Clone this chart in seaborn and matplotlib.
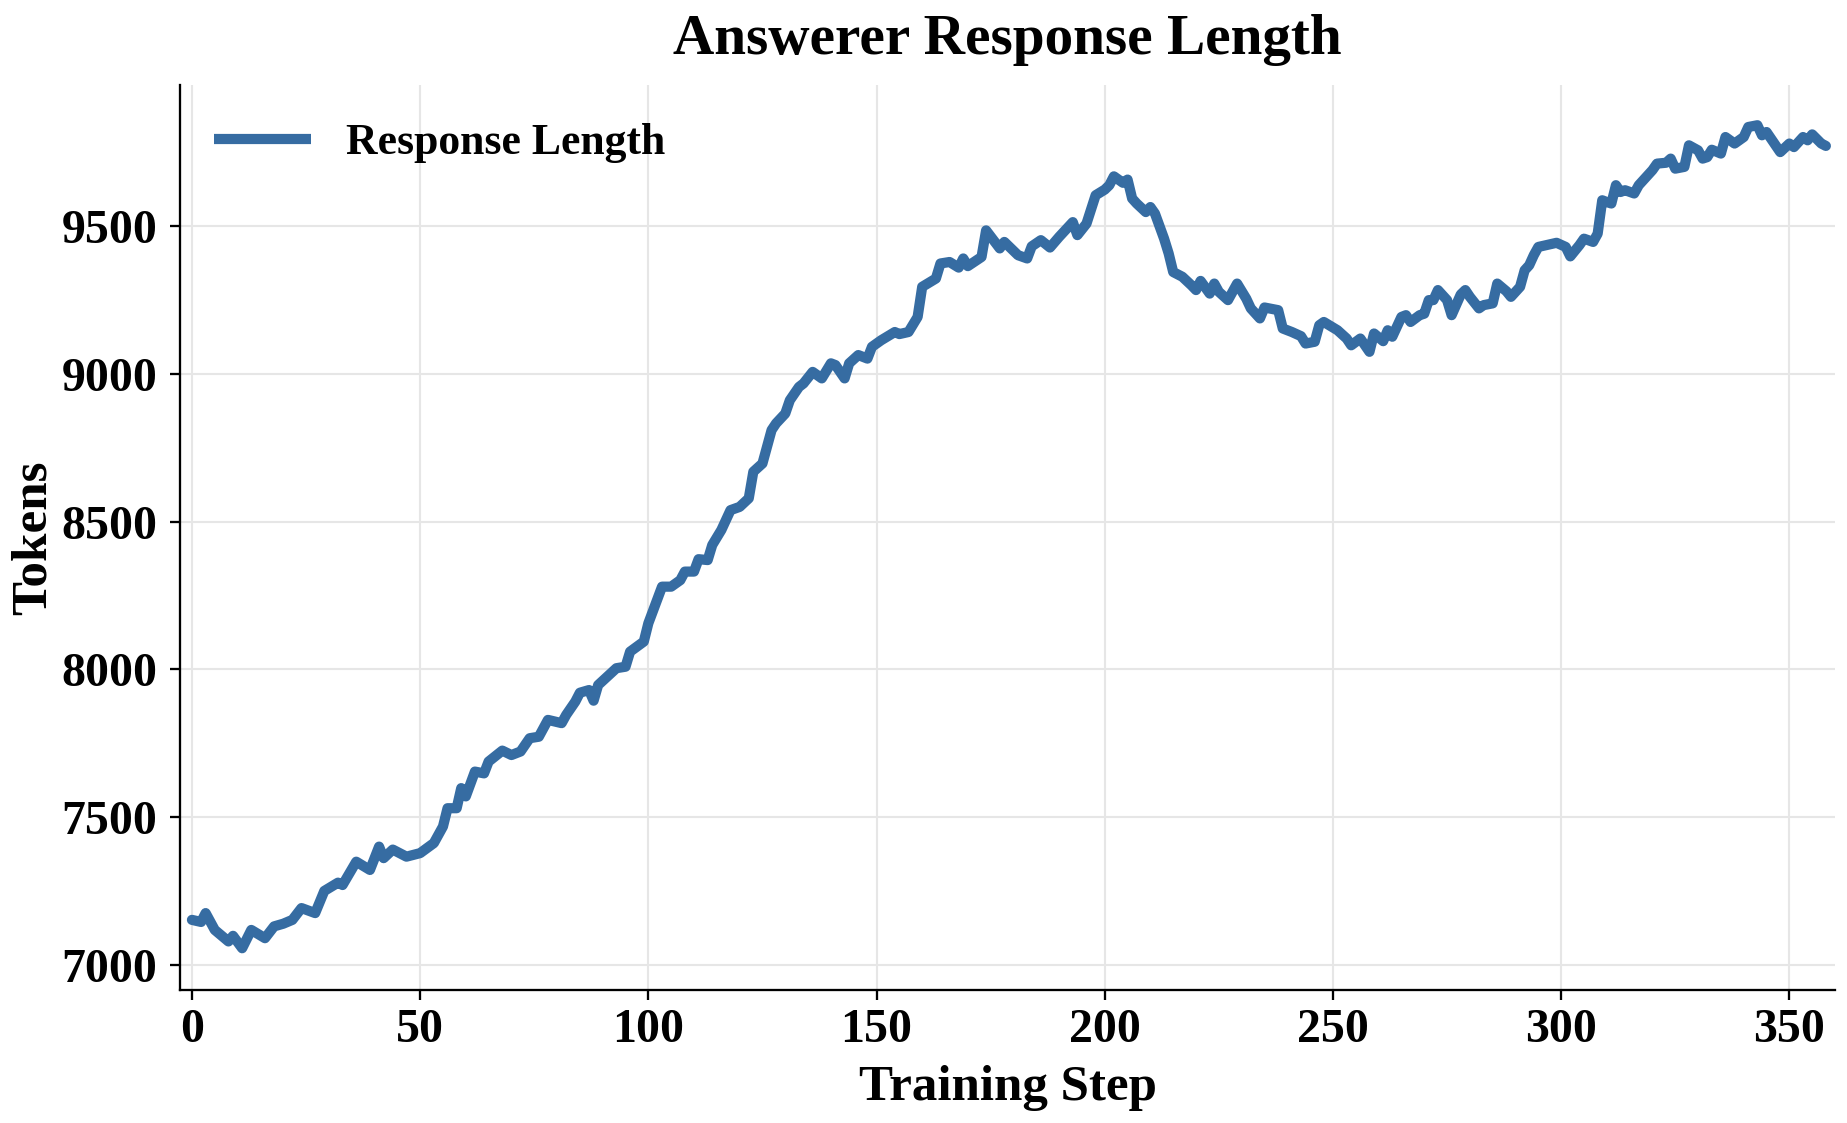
import matplotlib
matplotlib.use("Agg")
import matplotlib.pyplot as plt
import seaborn as sns
import pandas as pd

# --- Data ---
steps = [
    0, 2, 3, 5, 8, 9, 11, 13, 16, 18, 20, 22, 24, 27, 29, 32, 33, 36, 39, 41,
    42, 44, 47, 50, 53, 55, 56, 58, 59, 60, 62, 64, 65, 68, 70, 72, 74, 76, 78, 81,
    82, 84, 85, 87, 88, 89, 93, 95, 96, 99, 100, 103, 105, 107, 108, 110, 111, 113, 114, 116,
    118, 120, 122, 123, 125, 127, 128, 130, 131, 133, 134, 136, 138, 140, 141, 143, 144, 146, 148, 149,
    151, 154, 155, 157, 159, 160, 163, 164, 166, 168, 169, 170, 173, 174, 177, 178, 181, 183, 184, 186,
    188, 190, 193, 194, 196, 198, 200, 201, 202, 204, 205, 206, 207, 209, 210, 211, 213, 214, 215, 217,
    219, 220, 221, 223, 224, 225, 227, 229, 231, 232, 234, 235, 238, 239, 241, 243, 244, 246, 247, 248,
    251, 253, 254, 256, 258, 259, 261, 262, 263, 265, 266, 267, 269, 270, 271, 272, 273, 275, 276, 278,
    279, 280, 282, 283, 285, 286, 288, 289, 291, 292, 293, 294, 295, 299, 301, 302, 304, 305, 307, 308,
    309, 310, 311, 312, 313, 314, 316, 317, 320, 321, 323, 324, 325, 327, 328, 330, 331, 332, 333, 335,
    336, 338, 340, 341, 343, 344, 345, 347, 348, 350, 351, 353, 354, 355, 357, 358,
]
tokens = [
    7152, 7145, 7175, 7118, 7079, 7098, 7056, 7118, 7090, 7130, 7139, 7152, 7192, 7175, 7250, 7278, 7270, 7349, 7321, 7400,
    7361, 7390, 7366, 7378, 7412, 7468, 7530, 7530, 7598, 7570, 7654, 7648, 7688, 7725, 7710, 7722, 7767, 7772, 7829, 7818,
    7846, 7891, 7921, 7930, 7894, 7947, 8004, 8009, 8060, 8094, 8156, 8280, 8280, 8302, 8331, 8331, 8373, 8370, 8421, 8472,
    8539, 8550, 8579, 8669, 8697, 8810, 8833, 8866, 8911, 8956, 8968, 9007, 8985, 9036, 9030, 8985, 9036, 9064, 9052, 9092,
    9114, 9142, 9135, 9142, 9193, 9295, 9323, 9374, 9379, 9360, 9391, 9365, 9396, 9486, 9425, 9447, 9402, 9391, 9432, 9453,
    9428, 9464, 9514, 9470, 9509, 9605, 9624, 9639, 9669, 9647, 9658, 9594, 9577, 9548, 9565, 9543, 9458, 9408, 9345, 9329,
    9300, 9284, 9315, 9272, 9306, 9278, 9250, 9306, 9255, 9222, 9188, 9225, 9216, 9154, 9142, 9128, 9103, 9109, 9165, 9176,
    9148, 9120, 9097, 9120, 9075, 9137, 9111, 9148, 9126, 9193, 9199, 9176, 9199, 9204, 9250, 9250, 9284, 9250, 9199, 9269,
    9284, 9261, 9222, 9233, 9239, 9306, 9280, 9261, 9295, 9351, 9368, 9402, 9430, 9444, 9430, 9398, 9436, 9458, 9447, 9475,
    9588, 9582, 9577, 9639, 9616, 9622, 9611, 9639, 9690, 9712, 9715, 9729, 9695, 9701, 9774, 9757, 9729, 9734, 9759, 9746,
    9802, 9780, 9802, 9836, 9842, 9808, 9819, 9774, 9751, 9780, 9768, 9802, 9791, 9811, 9780, 9772,
]
y_ticks = [7000, 7500, 8000, 8500, 9000, 9500]
x_ticks = [0, 50, 100, 150, 200, 250, 300, 350]

df = pd.DataFrame({"step": steps, "tokens": tokens, "series": "Response Length"})

# --- Style ---
sns.set_theme(style="ticks")
plt.rcParams["font.family"] = ["Liberation Serif", "DejaVu Serif"]
plt.rcParams.update({
    "font.weight": "bold",
    "axes.labelweight": "bold",
    "axes.titleweight": "bold",
    "text.color": "black",
    "axes.labelcolor": "black",
    "xtick.color": "black",
    "ytick.color": "black",
})

fig, ax = plt.subplots(figsize=(1847 / 150, 1123 / 150), dpi=150)
fig.subplots_adjust(left=0.0975, right=0.9935, top=0.924, bottom=0.118)

sns.lineplot(data=df, x="step", y="tokens", hue="series", palette=["#366ca2"],
             linewidth=4.9, ax=ax)

ax.set_xlim(-2.6, 360)
ax.set_ylim(6913, 9977)
ax.set_xticks(x_ticks)
ax.set_yticks(y_ticks)
ax.grid(True, color="#e6e6e6", linewidth=1.0)
ax.set_axisbelow(True)
sns.despine(ax=ax)
for side in ["left", "bottom"]:
    ax.spines[side].set_linewidth(1.1)
    ax.spines[side].set_color("black")
ax.tick_params(axis="both", labelsize=23, length=5, width=1.1, color="black")
ax.tick_params(axis="y", pad=6)

ax.set_title("Answerer Response Length", fontsize=27.5, pad=15)
ax.set_xlabel("Training Step", fontsize=24.5, labelpad=6)
ax.set_ylabel("Tokens", fontsize=24.5, labelpad=2)

leg = ax.legend(title=None, loc="upper left", frameon=False, fontsize=21,
                handlelength=2.2, bbox_to_anchor=(-0.003, 1.002), borderaxespad=0.5)
for h in leg.get_lines():
    h.set_solid_capstyle("butt")

plt.savefig("out.png", dpi=150)
